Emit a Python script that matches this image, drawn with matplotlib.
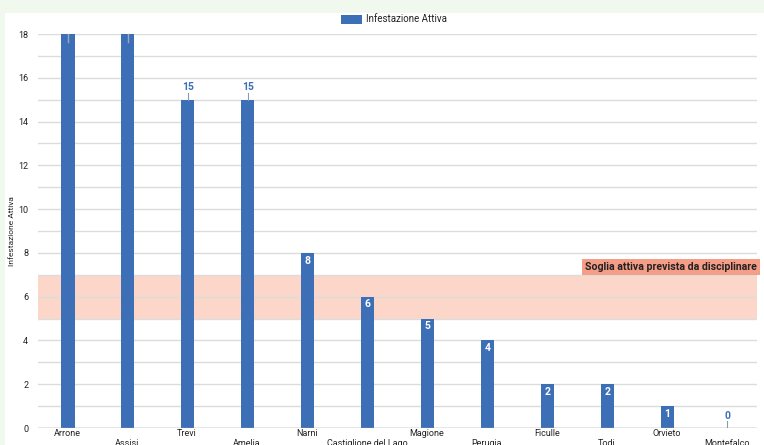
import matplotlib
matplotlib.use("Agg")
import matplotlib.pyplot as plt
from matplotlib.patches import Rectangle

categories = ["Arrone", "Assisi", "Trevi", "Amelia", "Narni", "Castiglione del Lago",
              "Magione", "Perugia", "Ficulle", "Todi", "Orvieto", "Montefalco"]
values = [22, 20, 15, 15, 8, 6, 5, 4, 2, 2, 1, 0]
series_name = "Infestazione Attiva"
band_low, band_high = 5, 7
band_label = "Soglia attiva prevista da disciplinare"
y_ticks = [0, 2, 4, 6, 8, 10, 12, 14, 16, 18]

plt.rcParams['font.family'] = ['Roboto', 'DejaVu Sans']
BLUE = "#3d6fb6"

W, H = 764, 445
fig = plt.figure(figsize=(W/100, H/100), dpi=100)
fig.patch.set_facecolor("#f1f8ee")
fig.add_artist(Rectangle((5/W, 0), 1 - 5/W, 1 - 13/H, transform=fig.transFigure,
                         facecolor="white", edgecolor="none", zorder=0))

ax = fig.add_axes([38/W, 1 - 428/H, (757-38)/W, (428-34)/H])
ax.set_facecolor("none")
ax.set_xlim(-0.5, len(categories) - 0.5)
ax.set_ylim(0, 18)

# band
ax.axhspan(band_low, band_high, color="#fcd6c9", zorder=1, lw=0)

# grid
for y in range(0, 19):
    ax.axhline(y, color="#dcdcdc", lw=1.0, zorder=1.5)
ax.axhline(0, color="#9e9e9e", lw=1.0, zorder=3)

x = list(range(len(categories)))
bars = ax.bar(x, values, width=0.22, color=BLUE, zorder=2)

for i, v in enumerate(values):
    if v > 18:
        ax.plot([i, i], [17.65, 18], color="#9aa9bd", lw=1, zorder=4, clip_on=False)
    elif v >= 10 or v == 0:
        ax.plot([i, i], [v, v + 0.3], color="#8899b0", lw=0.8, zorder=4)
        ax.text(i, v + 0.33, str(v), ha="center", va="bottom", color=BLUE,
                fontsize=7.5, fontweight="bold", zorder=5)
    else:
        ax.text(i, v - 0.12, str(v), ha="center", va="top", color="white",
                fontsize=7.5, fontweight="bold", zorder=5)

ax.set_yticks(y_ticks)
ax.set_yticklabels([str(t) for t in y_ticks], fontsize=6.5, color="#222222")
ax.tick_params(axis="y", length=0, pad=7)
ax.set_xticks([])
for s in ax.spines.values():
    s.set_visible(False)

for i, c in enumerate(categories):
    yoff = 434 if i % 2 == 0 else 443
    fig.text((38 + 60 * (i + 0.5) - 1) / W, 1 - yoff / H, c, ha="center", va="center",
             fontsize=6.5, color="#222222")

ax.text(11.5, 7.35, band_label, ha="right", va="center", fontsize=7.6, fontweight="bold",
        color="#222222", zorder=6,
        bbox=dict(boxstyle="square,pad=0.25", facecolor="#f59d87", edgecolor="none"))

fig.text(12/W, 1 - 231/H, series_name, rotation=90, ha="center", va="center",
         fontsize=6, color="#222222")

# legend
fig.add_artist(Rectangle((341/W, 1 - 24/H), 21/W, 9/H, transform=fig.transFigure,
                         facecolor=BLUE, edgecolor="none"))
fig.text(366/W, 1 - 19.5/H, series_name, ha="left", va="center", fontsize=7, color="#222222")

fig.savefig("out.png", dpi=100)
